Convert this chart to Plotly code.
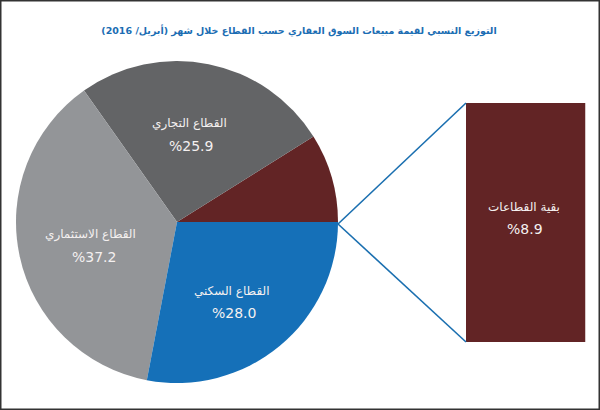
import plotly.graph_objects as go

# ---- data ----
sectors = ["بقية القطاعات", "القطاع التجاري", "القطاع الاستثماري", "القطاع السكني"]
shares = [8.9, 25.9, 37.2, 28.0]
colors = ["#622425", "#636466", "#939598", "#1570b8"]
title_text = "التوزيع النسبي لقيمة مبيعات السوق العقاري حسب القطاع خلال شهر (أبريل/ 2016)"

W, H = 600, 410
FONT = "DejaVu Sans"
pie_x = [15 / W, 339 / W]
pie_y = [1 - 383 / H, 1 - 61 / H]
bar_x = [466 / W, 585.5 / W]
bar_y = [1 - 342 / H, 1 - 103 / H]

# first slice (remaining sectors) sits just above the 3 o'clock direction
rotation = 90 - shares[0] / sum(shares) * 360

fig = go.Figure()
fig.add_trace(go.Pie(
    labels=sectors, values=shares, sort=False, direction="counterclockwise",
    rotation=rotation, marker=dict(colors=colors, line=dict(width=0)),
    textinfo="none", hoverinfo="label+percent", showlegend=False,
    domain=dict(x=pie_x, y=pie_y),
))
# exploded bar for the remaining sectors
fig.add_trace(go.Bar(
    x=[0], y=[shares[0]], width=[1], marker=dict(color=colors[0], line=dict(width=0)),
    xaxis="x", yaxis="y", showlegend=False, hoverinfo="skip",
))

# connector lines from the pie's 3 o'clock point to the bar corners
px = pie_x[1] - 1 / W
py = 1 - 224 / H
line_style = dict(color="#1a6fb0", width=1.6)
shapes = [
    dict(type="line", xref="paper", yref="paper", x0=px, y0=py, x1=bar_x[0], y1=bar_y[1], line=line_style),
    dict(type="line", xref="paper", yref="paper", x0=px, y0=py, x1=bar_x[0], y1=bar_y[0], line=line_style),
    dict(type="rect", xref="paper", yref="paper", x0=0, y0=0, x1=1, y1=1,
         line=dict(color="#333333", width=3), layer="above"),
]

# label positions (pixel positions of the label centres in the reference)
label_pos = {
    1: (189, 123, 191, 146),
    2: (90, 235, 94, 257),
    3: (231, 291, 234, 313),
    0: (524, 207, 525, 229),
}
annotations = []
for i, (x1, y1, x2, y2) in label_pos.items():
    annotations.append(dict(x=x1 / W, y=1 - y1 / H, xref="paper", yref="paper",
                            text=sectors[i], showarrow=False,
                            font=dict(family=FONT, size=12, color="#f4f0f0"),
                            xanchor="center", yanchor="middle"))
    annotations.append(dict(x=x2 / W, y=1 - y2 / H, xref="paper", yref="paper",
                            text="%" + f"{shares[i]:.1f}", showarrow=False,
                            font=dict(family=FONT, size=14, color="#f4f0f0"),
                            xanchor="center", yanchor="middle"))

fig.update_layout(
    width=W, height=H,
    margin=dict(l=0, r=0, t=0, b=0),
    paper_bgcolor="white", plot_bgcolor="rgba(0,0,0,0)",
    title=dict(text="<b>" + title_text + "</b>", x=299 / W, xanchor="center",
               y=1 - 31 / H, yanchor="middle",
               font=dict(family=FONT, size=9.5, color="#1b6db3")),
    xaxis=dict(domain=bar_x, range=[-0.5, 0.5], visible=False, fixedrange=True),
    yaxis=dict(domain=bar_y, range=[0, shares[0]], visible=False, fixedrange=True),
    shapes=shapes, annotations=annotations,
)

fig.write_html("out.html")
